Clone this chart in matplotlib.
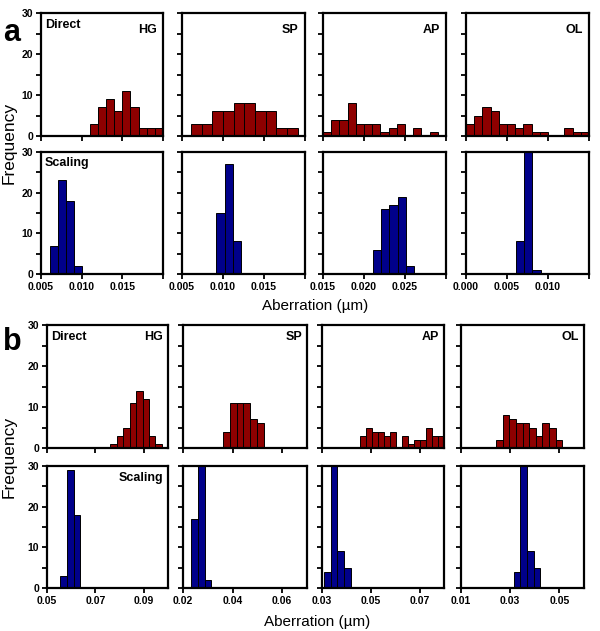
import numpy as np
import matplotlib
matplotlib.use("Agg")
import matplotlib.pyplot as plt

plt.rcParams['font.family'] = ['Liberation Sans', 'DejaVu Sans']

# ---- data: (bin start, bin width, counts) per panel ----
methods = ['HG', 'SP', 'AP', 'OL']

# panel a
a_direct_start = [0.011, 0.0061, 0.015, 0.000]
a_direct_width = [0.001, 0.0013, 0.001, 0.001]
a_direct_counts = [
    [3, 7, 9, 6, 11, 7, 2, 2, 2],
    [3, 3, 6, 6, 8, 8, 6, 6, 2, 2],
    [1, 4, 4, 8, 3, 3, 3, 1, 2, 3, 0, 2, 0, 1],
    [3, 5, 7, 6, 3, 3, 2, 3, 1, 1, 0, 0, 2, 1, 1],
]
a_scaling_start = [0.0061, 0.0092, 0.0211, 0.0061]
a_scaling_width = [0.001, 0.001, 0.001, 0.001]
a_scaling_counts = [
    [7, 23, 18, 2],
    [15, 27, 8],
    [6, 16, 17, 19, 2],
    [8, 41, 1],
]
a_xlims = [(0.005, 0.020), (0.005, 0.020), (0.015, 0.030), (0.000, 0.015)]
a_xticks = [[0.005, 0.010, 0.015, 0.020], [0.005, 0.010, 0.015, 0.020],
            [0.015, 0.020, 0.025, 0.030], [0.000, 0.005, 0.010, 0.015]]

# panel b
b_direct_start = [0.0762, 0.0362, 0.0455, 0.0242]
b_direct_width = [0.00266, 0.00272, 0.00246, 0.0027]
b_direct_counts = [
    [1, 3, 5, 11, 14, 12, 3, 1],
    [4, 11, 11, 11, 7, 6],
    [3, 5, 4, 4, 3, 4, 0, 3, 1, 2, 2, 5, 3, 3],
    [2, 8, 7, 6, 6, 5, 3, 6, 5, 2],
]
b_scaling_start = [0.0555, 0.0233, 0.0309, 0.0314]
b_scaling_width = [0.00276, 0.00272, 0.00272, 0.00272]
b_scaling_counts = [
    [3, 29, 18],
    [17, 31, 2],
    [4, 32, 9, 5],
    [4, 32, 9, 5],
]
b_xlims = [(0.05, 0.10), (0.02, 0.07), (0.03, 0.08), (0.01, 0.06)]
b_xticks = [[0.05, 0.07, 0.09], [0.02, 0.04, 0.06], [0.03, 0.05, 0.07], [0.01, 0.03, 0.05]]

RED = '#8e0000'
BLUE = '#00008a'

W, H = 600, 631
fig = plt.figure(figsize=(W / 100, H / 100), dpi=100)


def px_axes(left, top, right, bottom):
    return fig.add_axes([left / W, 1 - bottom / H, (right - left) / W, (bottom - top) / H])


def style(ax, xlim, xticks, fmt, col, show_xlabels):
    ax.set_xlim(*xlim)
    ax.set_ylim(0, 30)
    ax.set_xticks(xticks)
    if show_xlabels:
        labels = [fmt.format(t) if t < xlim[1] - 1e-9 else '' for t in xticks]
        ax.set_xticklabels(labels, fontweight='bold', fontsize=7.5)
    else:
        ax.set_xticklabels([])
    ax.set_yticks(np.arange(0, 31, 5))
    if col == 0:
        ax.set_yticklabels([str(v) if v % 10 == 0 else '' for v in range(0, 31, 5)],
                           fontweight='bold', fontsize=7.5)
    else:
        ax.set_yticklabels([])
    ax.tick_params(direction='out', length=3.5, width=1.3, pad=2)
    for s in ax.spines.values():
        s.set_linewidth(1.6)


def draw_hist(ax, start, width, counts, color):
    counts = np.asarray(counts)
    edges = start + width * np.arange(len(counts))
    ax.bar(edges, counts, width=width, align='edge', color=color,
           edgecolor='black', linewidth=0.7)


# column geometry in pixels (left, right)
a_cols = [(41, 163), (182, 305), (323, 446), (466, 589)]
b_cols = [(47, 168), (183, 307), (322, 444), (461, 584)]
a_rows = [(13, 136), (152, 274)]
b_rows = [(325, 448), (466, 588)]

for col in range(4):
    l, r = a_cols[col]
    ax = px_axes(l, a_rows[0][0], r, a_rows[0][1])
    draw_hist(ax, a_direct_start[col], a_direct_width[col], a_direct_counts[col], RED)
    style(ax, a_xlims[col], a_xticks[col], '{:.3f}', col, False)
    ax.text(0.95, 0.91, methods[col], transform=ax.transAxes, ha='right', va='top',
            fontsize=9, fontweight='bold')
    if col == 0:
        ax.text(0.03, 0.95, 'Direct', transform=ax.transAxes, ha='left', va='top',
                fontsize=9, fontweight='bold')

    ax = px_axes(l, a_rows[1][0], r, a_rows[1][1])
    draw_hist(ax, a_scaling_start[col], a_scaling_width[col], a_scaling_counts[col], BLUE)
    style(ax, a_xlims[col], a_xticks[col], '{:.3f}', col, True)
    if col == 0:
        ax.text(0.03, 0.96, 'Scaling', transform=ax.transAxes, ha='left', va='top',
                fontsize=9, fontweight='bold')

    l, r = b_cols[col]
    ax = px_axes(l, b_rows[0][0], r, b_rows[0][1])
    draw_hist(ax, b_direct_start[col], b_direct_width[col], b_direct_counts[col], RED)
    style(ax, b_xlims[col], b_xticks[col], '{:.2f}', col, False)
    ax.text(0.96, 0.95, methods[col], transform=ax.transAxes, ha='right', va='top',
            fontsize=9, fontweight='bold')
    if col == 0:
        ax.text(0.03, 0.95, 'Direct', transform=ax.transAxes, ha='left', va='top',
                fontsize=9, fontweight='bold')

    ax = px_axes(l, b_rows[1][0], r, b_rows[1][1])
    draw_hist(ax, b_scaling_start[col], b_scaling_width[col], b_scaling_counts[col], BLUE)
    style(ax, b_xlims[col], b_xticks[col], '{:.2f}', col, True)
    if col == 0:
        ax.text(0.96, 0.95, 'Scaling', transform=ax.transAxes, ha='right', va='top',
                fontsize=9, fontweight='bold')

# shared labels
fig.text(9 / W, 1 - 143 / H, 'Frequency', rotation=90, ha='center', va='center', fontsize=12.5)
fig.text(9 / W, 1 - 457 / H, 'Frequency', rotation=90, ha='center', va='center', fontsize=12.5)
fig.text(315 / W, 1 - 306 / H, 'Aberration (\u00b5m)', ha='center', va='center', fontsize=11)
fig.text(317 / W, 1 - 622 / H, 'Aberration (\u00b5m)', ha='center', va='center', fontsize=11)
fig.text(3 / W, 1 - 33 / H, 'a', ha='left', va='center', fontsize=22, fontweight='bold')
fig.text(3 / W, 1 - 342 / H, 'b', ha='left', va='center', fontsize=22, fontweight='bold')

fig.savefig('out.png', dpi=100)
